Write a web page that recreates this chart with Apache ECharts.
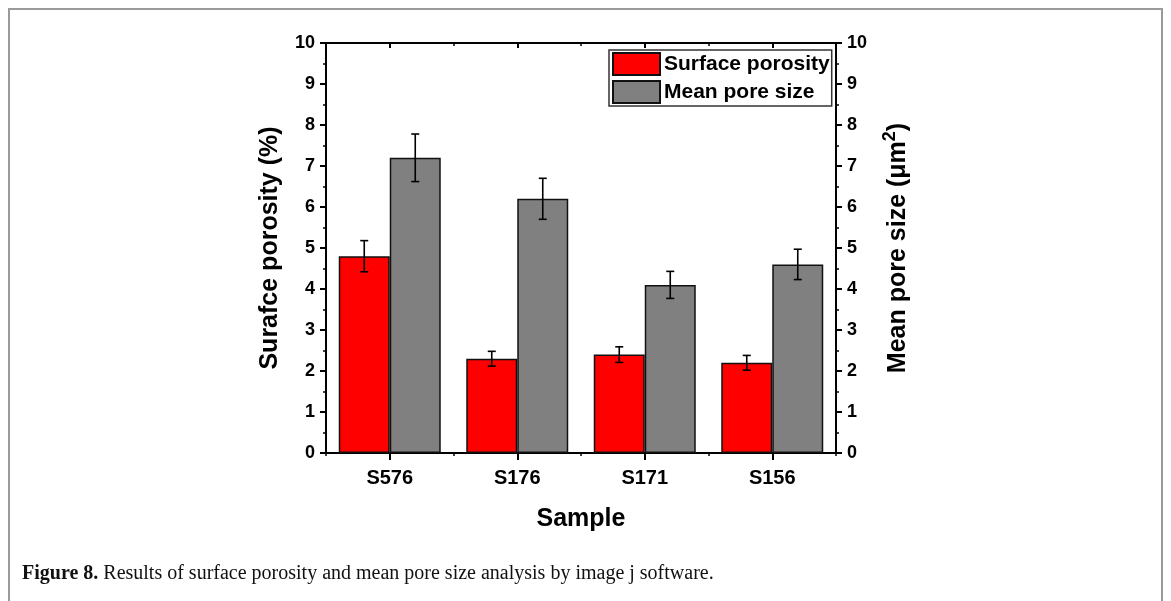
<!DOCTYPE html>
<html>
<head>
<meta charset="utf-8">
<script src="https://cdn.jsdelivr.net/npm/echarts@6/dist/echarts.min.js"></script>
<style>
  html, body { margin: 0; padding: 0; background: #fff; }
  #chart { width: 1171px; height: 601px; }
</style>
</head>
<body>
<div id="chart"></div>
<script>
// data
const samples = ['S576', 'S176', 'S171', 'S156'];
const porosity = [4.8, 2.3, 2.4, 2.2];
const porosityErr = [0.38, 0.18, 0.19, 0.18];
const poreSize = [7.2, 6.2, 4.1, 4.6];
const poreSizeErr = [0.58, 0.5, 0.33, 0.37];
const yMin = 0, yMax = 10, yStep = 1;

const font = 'Liberation Sans, Arial, sans-serif';

// error bar drawn at the left (-1) or right (+1) bar of a group
const errorBar = (side) => function (params, api) {
  var i = api.value(0);
  var hi = api.coord([i, api.value(1) + api.value(2)]);
  var lo = api.coord([i, api.value(1) - api.value(2)]);
  var band = api.size([1, 0])[0];
  var x = hi[0] + side * band * 0.2;
  var cap = 4;
  var st = { stroke: '#000', lineWidth: 1.6 };
  return {
    type: 'group',
    children: [
      { type: 'line', shape: { x1: x, y1: hi[1], x2: x, y2: lo[1] }, style: st },
      { type: 'line', shape: { x1: x - cap, y1: hi[1], x2: x + cap, y2: hi[1] }, style: st },
      { type: 'line', shape: { x1: x - cap, y1: lo[1], x2: x + cap, y2: lo[1] }, style: st }
    ]
  };
};

const yAxisBase = (pos) => ({
  type: 'value',
  position: pos,
  min: yMin,
  max: yMax,
  interval: yStep,
  axisLine: { show: true, lineStyle: { color: '#000', width: 2 } },
  axisTick: { show: true, length: 6, lineStyle: { color: '#000', width: 2 } },
  minorTick: { show: true, splitNumber: 2, length: 3, lineStyle: { color: '#000', width: 1.5 } },
  splitLine: { show: false },
  axisLabel: { color: '#000', fontFamily: font, fontWeight: 'bold', fontSize: 18, margin: 11 },
  nameLocation: 'middle',
  nameRotate: 90,
  nameTextStyle: { color: '#000', fontFamily: font, fontWeight: 'bold', fontSize: 25 }
});

var myChart = echarts.init(document.getElementById('chart'));
option = {
  animation: false,
  backgroundColor: '#fff',
  grid: { left: 326, right: 335, top: 43, bottom: 148 },
  legend: {
    data: ['Surface porosity', 'Mean pore size'],
    orient: 'vertical',
    left: 609,
    top: 50,
    icon: 'rect',
    itemWidth: 47,
    itemHeight: 22,
    itemGap: 4,
    padding: [2, 2, 2, 3],
    backgroundColor: '#fff',
    borderColor: '#333',
    borderWidth: 1.5,
    borderRadius: 0,
    textStyle: { color: '#000', fontFamily: font, fontWeight: 'bold', fontSize: 21, padding: [0, 0, 0, -1] }
  },
  xAxis: [
    {
      type: 'category',
      data: samples,
      position: 'bottom',
      axisLine: { show: true, lineStyle: { color: '#000', width: 2 } },
      axisTick: { show: true, alignWithLabel: true, length: 7, lineStyle: { color: '#000', width: 2 } },
      axisLabel: { color: '#000', fontFamily: font, fontWeight: 'bold', fontSize: 20, margin: 15 },
      name: 'Sample',
      nameLocation: 'middle',
      nameGap: 54,
      nameTextStyle: { color: '#000', fontFamily: font, fontWeight: 'bold', fontSize: 25 }
    },
    {
      // small ticks between groups
      type: 'category',
      data: samples,
      position: 'bottom',
      axisLine: { show: false },
      axisTick: { show: true, length: 3, lineStyle: { color: '#000', width: 1.5 } },
      axisLabel: { show: false }
    },
    {
      type: 'category',
      data: samples,
      position: 'top',
      axisLine: { show: true, lineStyle: { color: '#000', width: 2 } },
      axisTick: { show: true, inside: true, alignWithLabel: true, length: 5, lineStyle: { color: '#000', width: 2 } },
      axisLabel: { show: false }
    },
    {
      type: 'category',
      data: samples,
      position: 'top',
      axisLine: { show: false },
      axisTick: { show: true, inside: true, length: 3, lineStyle: { color: '#000', width: 1.5 } },
      axisLabel: { show: false }
    }
  ],
  yAxis: [
    Object.assign(yAxisBase('left'), {
      name: 'Surafce porosity (%)',
      nameGap: 43
    }),
    Object.assign(yAxisBase('right'), {
      name: '{t|Mean pore size (\u03bcm}{sup|2}{t|)}',
      nameGap: 45,
      nameTextStyle: {
        color: '#000', fontFamily: font, fontWeight: 'bold', fontSize: 25,
        rich: {
          t: { fontFamily: font, fontWeight: 'bold', fontSize: 25, color: '#000', lineHeight: 30, verticalAlign: 'bottom' },
          sup: { fontFamily: font, fontWeight: 'bold', fontSize: 18, color: '#000', lineHeight: 20, verticalAlign: 'top' }
        }
      }
    })
  ],
  series: [
    {
      name: 'Surface porosity',
      type: 'bar',
      xAxisIndex: 0,
      yAxisIndex: 0,
      data: porosity,
      barWidth: '40%',
      barGap: '0%',
      itemStyle: { color: '#ff0000', borderColor: '#111', borderWidth: 1.5 }
    },
    {
      name: 'Mean pore size',
      type: 'bar',
      xAxisIndex: 0,
      yAxisIndex: 1,
      data: poreSize,
      barWidth: '40%',
      barGap: '0%',
      itemStyle: { color: '#808080', borderColor: '#111', borderWidth: 1.5 }
    },
    {
      name: 'porosity error',
      type: 'custom',
      xAxisIndex: 0,
      yAxisIndex: 0,
      renderItem: errorBar(-1),
      encode: { x: 0, y: 1 },
      data: porosity.map((v, i) => [i, v, porosityErr[i]]),
      z: 5
    },
    {
      name: 'pore size error',
      type: 'custom',
      xAxisIndex: 0,
      yAxisIndex: 1,
      renderItem: errorBar(1),
      encode: { x: 0, y: 1 },
      data: poreSize.map((v, i) => [i, v, poreSizeErr[i]]),
      z: 5
    }
  ],
  graphic: [
    {
      type: 'rect',
      silent: true,
      shape: { x: 9, y: 9, width: 1153, height: 620 },
      style: { fill: 'none', stroke: '#9a9a9a', lineWidth: 2 }
    },
    {
      type: 'text',
      silent: true,
      x: 22,
      y: 574,
      style: {
        text: '{b|Figure 8.} Results of surface porosity and mean pore size analysis by image j software.',
        fill: '#111',
        font: '20px "Liberation Serif", serif',
        verticalAlign: 'middle',
        rich: {
          b: { fontFamily: 'Liberation Serif', fontWeight: 'bold', fontSize: 20, fill: '#111' }
        }
      }
    }
  ]
};
myChart.setOption(option);
</script>
</body>
</html>
